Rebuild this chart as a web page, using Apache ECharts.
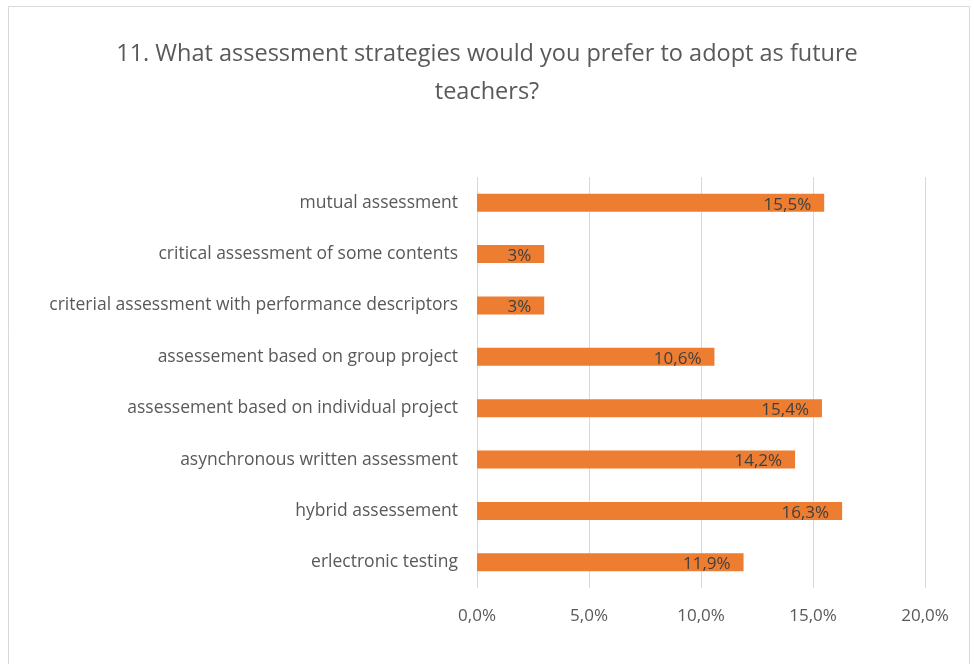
<!DOCTYPE html>
<html>
<head>
<meta charset="utf-8">
<script src="https://cdn.jsdelivr.net/npm/echarts@6/dist/echarts.min.js"></script>
<style>html,body{margin:0;padding:0;background:#fff;}#c{width:974px;height:664px;}</style>
</head>
<body>
<div id="c"></div>
<script>
var categories = [
  "mutual assessment",
  "critical assessment of some contents",
  "criterial assessment with performance descriptors",
  "assessement based on group project",
  "assessement based on individual project",
  "asynchronous written assessment",
  "hybrid assessement",
  "erlectronic testing"
];
var values = [15.5, 3, 3, 10.6, 15.4, 14.2, 16.3, 11.9];
var titleText = "11. What assessment strategies would you prefer to adopt as future\nteachers?";

var FONT = "'Open Sans', sans-serif";
var chart = echarts.init(document.getElementById('c'));
chart.setOption({
  animation: false,
  backgroundColor: '#fff',
  title: {
    text: titleText,
    left: 'center',
    top: 30,
    textStyle: { fontFamily: FONT, fontSize: 23.5, fontWeight: 'normal', color: '#595959', lineHeight: 38 }
  },
  graphic: [{
    type: 'rect',
    shape: { x: 8.5, y: 6.5, width: 961, height: 680 },
    style: { fill: 'none', stroke: '#d9d9d9', lineWidth: 1 },
    silent: true
  }],
  grid: { left: 477, right: 49, top: 177, bottom: 76 },
  xAxis: {
    type: 'value',
    min: 0, max: 20, interval: 5,
    axisLine: { show: false },
    axisTick: { show: false },
    splitLine: { lineStyle: { color: '#d9d9d9', width: 1 } },
    axisLabel: {
      fontFamily: FONT, fontSize: 17, color: '#595959', margin: 20,
      formatter: function (v) { return v.toFixed(1).replace('.', ',') + '%'; }
    }
  },
  yAxis: {
    type: 'category',
    data: categories,
    inverse: true,
    axisLine: { show: false },
    axisTick: { show: false },
    axisLabel: { fontFamily: FONT, fontSize: 17.5, color: '#595959', margin: 19 }
  },
  series: [{
    type: 'bar',
    data: values,
    barWidth: 18,
    itemStyle: { color: '#ED7D31' },
    label: {
      show: true,
      position: 'insideRight',
      distance: 13,
      offset: [0, 2],
      fontFamily: FONT, fontSize: 17, color: '#404040',
      formatter: function (p) { return String(p.value).replace('.', ',') + '%'; }
    }
  }]
});
</script>
</body>
</html>
